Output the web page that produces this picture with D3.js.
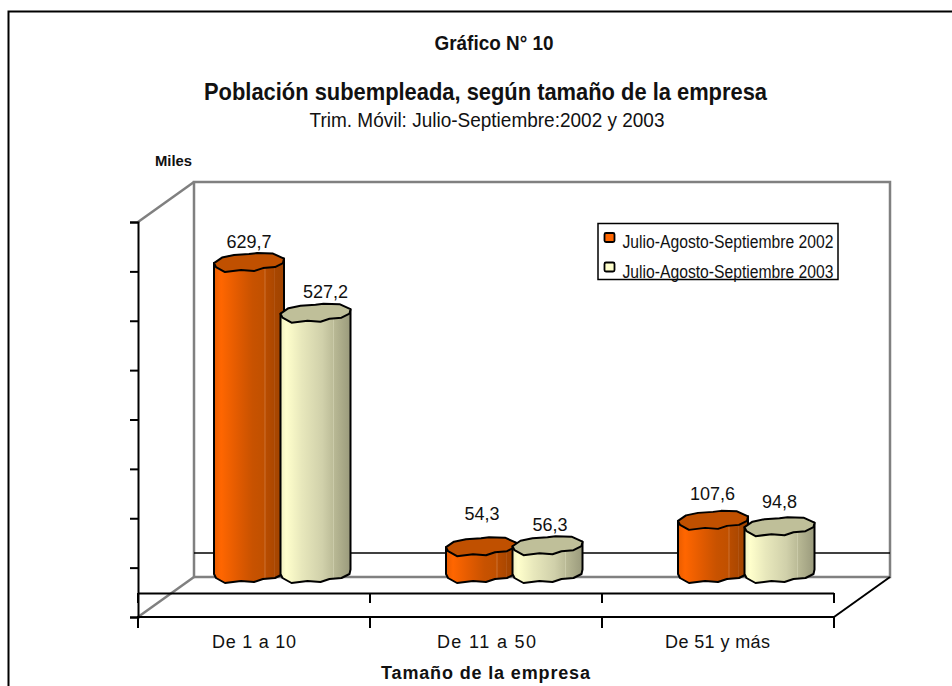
<!DOCTYPE html>
<html><head><meta charset="utf-8">
<script src="https://cdn.jsdelivr.net/npm/d3@7"></script>
<style>html,body{margin:0;padding:0;background:#fff}svg{display:block}text{font-family:"Liberation Sans",Arial,sans-serif;fill:#111}</style>
</head><body><svg id="c" width="952" height="686"></svg>
<script>
const categories=["De 1 a 10","De 11 a  50","De 51 y más"];
const seriesNames=["Julio-Agosto-Septiembre 2002","Julio-Agosto-Septiembre 2003"];
const values2002=[629.7,54.3,107.6];
const values2003=[527.2,56.3,94.8];
const valueLabels2002=["629,7","54,3","107,6"];
const valueLabels2003=["527,2","56,3","94,8"];
const yTicks=[0,100,200,300,400,500,600,700,800];

const svg=d3.select("#c");
const y=d3.scaleLinear().domain([0,800]).range([617,222]);
const x=d3.scaleBand().domain(categories).range([138,834]);
const depth={x:56,y:40},barLift=44;
const line=(x1,y1,x2,y2,c,w)=>svg.append("line").attr("x1",x1).attr("y1",y1).attr("x2",x2).attr("y2",y2).attr("stroke",c).attr("stroke-width",w);

// outer frame (open at right and bottom in the reference)
svg.append("path").attr("d","M8.5,686V11.5H952").attr("fill","none").attr("stroke","#000").attr("stroke-width",2);

// back wall and side wall
const wall={l:138+depth.x,r:834+depth.x,t:y(800)-depth.y,b:y(0)-depth.y};
svg.append("path").attr("d",`M${wall.l},${wall.b}V${wall.t}H${wall.r}V${wall.b}H${wall.l}`).attr("fill","none").attr("stroke","#808080").attr("stroke-width",2.5);
line(138,y(800),wall.l,wall.t,"#808080",2.5);
line(138,y(0),wall.l,wall.b,"#808080",2.5);
line(wall.l,553,wall.r,553,"#000",1.5);
line(834,y(0),wall.r,wall.b,"#000",2);

// axes
const yAxis=d3.axisLeft(y).tickValues(yTicks).tickSize(8).tickFormat("");
svg.append("g").attr("transform","translate(138,0)").call(yAxis).call(g=>{g.select(".domain").attr("stroke","#000").attr("stroke-width",2);g.selectAll("line").attr("stroke","#000").attr("stroke-width",2);});
line(138,593.5,834,593.5,"#000",2);
line(138,617,834,617,"#000",2);
[...categories.map(c=>x(c)),x.range()[1]].forEach(p=>{line(p,616,p,628,"#000",2);line(p,593,p,603,"#000",2);});

// gradients
const defs=svg.append("defs");
function grad(id,stops){const g=defs.append("linearGradient").attr("id",id);stops.forEach(s=>g.append("stop").attr("offset",s[0]).attr("stop-color",s[1]));}
grad("o",[[0,"#e85c00"],[.1,"#ff6600"],[.35,"#e05a00"],[.55,"#c85200"],[.72,"#c05000"],[.725,"#d98a55"],[.74,"#b84c00"],[.85,"#ad4800"],[.855,"#c06a30"],[.87,"#a84600"],[1,"#a04400"]]);
grad("p",[[0,"#f0f0c0"],[.08,"#ffffcc"],[.3,"#e8e8bc"],[.6,"#d0d0aa"],[.75,"#bcbc98"],[.76,"#d0d0b0"],[.77,"#b8b894"],[1,"#9a9a7c"]]);
const colors=["#ff6600","#ffffcc"],tops=["#c05000","#bfbf99"],grads=["url(#o)","url(#p)"];

// irregular faceted rim of the cylinders
const rim=[[-35,1],[-27,-4.5],[-15,-7],[0,-8],[8,-9],[24,-8.5],[35,-3.5],[34,1],[26,5],[14,6],[5,9],[-8,8],[-24,10],[-33,5]];
const closed=d3.line().curve(d3.curveLinearClosed);
const series=[values2002,values2003],labels=[valueLabels2002,valueLabels2003];
const barOffset=[111,177.5];
const labelDx=[[0,1,-0.5],[10,2.5,0]];
const labelGap=[[14,26,20],[15,14,18]];

categories.forEach((cat,ci)=>{
  series.forEach((vals,s)=>{
    const cx=x(cat)+barOffset[s],top=y(vals[ci])-barLift,base=y(0)-barLift;
    const lower=[...rim.slice(6),rim[0]].map(p=>[cx+p[0],base+p[1]]);
    const pts=[[cx+rim[0][0],top+rim[0][1]],...lower.slice().reverse(),[cx+rim[6][0],top+rim[6][1]]];
    svg.append("path").attr("d",closed(pts)).attr("fill",grads[s]).attr("stroke","#000").attr("stroke-width",2).attr("stroke-linejoin","round");
    svg.append("path").attr("d",closed(rim.map(p=>[cx+p[0],top+p[1]]))).attr("fill",tops[s]).attr("stroke","#000").attr("stroke-width",2).attr("stroke-linejoin","round");
    svg.append("text").attr("x",cx+labelDx[s][ci]).attr("y",top-labelGap[s][ci]).attr("text-anchor","middle").attr("font-size",18).text(labels[s][ci]);
  });
});

// legend
svg.append("rect").attr("x",598).attr("y",223.5).attr("width",240).attr("height",56).attr("fill","#fff").attr("stroke","#000").attr("stroke-width",1.5);
seriesNames.forEach((n,i)=>{
  svg.append("rect").attr("x",604.5).attr("y",[233,262.5][i]).attr("width",10).attr("height",9).attr("rx",1.5).attr("fill",colors[i]).attr("stroke","#000").attr("stroke-width",1.8);
  svg.append("text").attr("x",622.5).attr("y",[248,277.5][i]).attr("font-size",18).attr("textLength",211).attr("lengthAdjust","spacingAndGlyphs").text(n);
});

// texts
const t=(s,px,py,size,weight,len,adj,anchor)=>{const e=svg.append("text").attr("x",px).attr("y",py).attr("font-size",size).attr("font-weight",weight||"normal").attr("text-anchor",anchor||"middle").text(s);if(len)e.attr("textLength",len).attr("lengthAdjust",adj||"spacingAndGlyphs");return e;};
t("Gráfico N° 10",494,50,20,"bold",119);
t("Población subempleada, según tamaño de la empresa",485.5,100,24,"bold",563);
t("Trim. Móvil: Julio-Septiembre:2002 y 2003",487,127,21,"normal",355);
t("Miles",155,166,14.8,"bold",null,null,"start");
const catLen=[84,99,105],catX=[254,486.5,717.5];
categories.forEach((c,i)=>t(c,catX[i],648,18,"normal",catLen[i],"spacing"));
t("Tamaño de la empresa",485.5,679,18,"bold",209,"spacing");
</script></body></html>
